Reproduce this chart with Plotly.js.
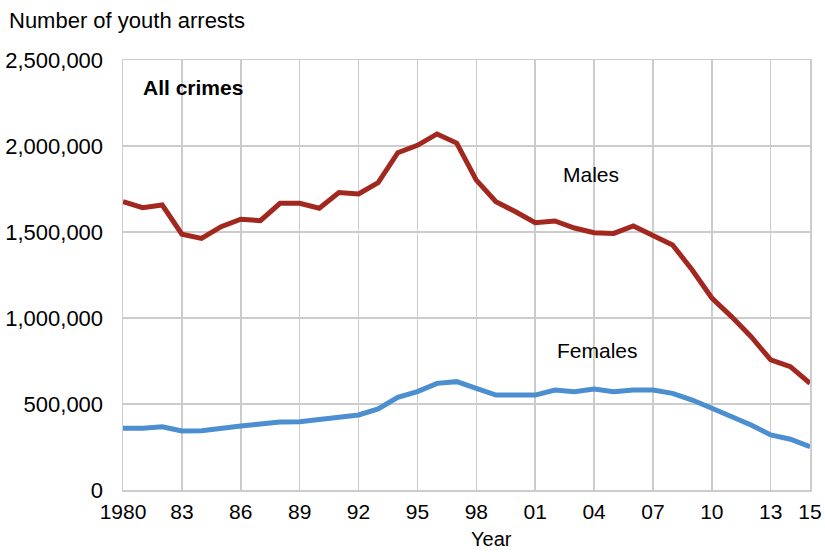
<!DOCTYPE html>
<html>
<head>
<meta charset="utf-8">
<script src="https://cdn.plot.ly/plotly-3.0.1.min.js"></script>
<style>html,body{margin:0;padding:0;background:#fff;}#chart{width:825px;height:552px;}</style>
</head>
<body>
<div id="chart"></div>
<script>
const years = [1980,1981,1982,1983,1984,1985,1986,1987,1988,1989,1990,1991,1992,1993,1994,1995,1996,1997,1998,1999,2000,2001,2002,2003,2004,2005,2006,2007,2008,2009,2010,2011,2012,2013,2014,2015];
const males = [1676000,1641000,1657000,1487000,1463000,1531000,1574000,1566000,1667000,1667000,1638000,1729000,1721000,1787000,1961000,2004000,2070000,2017000,1802000,1676000,1618000,1554000,1564000,1523000,1496000,1492000,1535000,1477000,1425000,1279000,1116000,1008000,891000,756000,717000,620000];
const females = [359000,359000,368000,343000,345000,362000,372000,384000,395000,397000,407000,423000,436000,471000,539000,572000,620000,630000,591000,552000,552000,552000,581000,572000,587000,572000,581000,581000,562000,523000,475000,426000,378000,320000,295000,252000];
const xTickVals = [1980,1983,1986,1989,1992,1995,1998,2001,2004,2007,2010,2013,2015];
const xTickText = ['1980','83','86','89','92','95','98','01','04','07','10','13','15'];
const yTickVals = [0,500000,1000000,1500000,2000000,2500000];

const font = 'Liberation Sans, Arial, Helvetica, sans-serif';

const traces = [
  {x: years, y: males, type: 'scatter', mode: 'lines', name: 'Males',
   line: {color: '#a2281f', width: 5}},
  {x: years, y: females, type: 'scatter', mode: 'lines', name: 'Females',
   line: {color: '#4b8fd1', width: 5}}
];

const layout = {
  width: 825, height: 552,
  margin: {l: 123, r: 15, t: 60, b: 62},
  paper_bgcolor: '#fff', plot_bgcolor: '#fff',
  showlegend: false,
  font: {family: font, color: '#000', size: 21},
  xaxis: {
    range: [1980, 2015],
    tickvals: xTickVals, ticktext: xTickText,
    tickfont: {size: 21, family: font},
    showgrid: true, gridcolor: '#cccccc', gridwidth: 1.5,
    showline: true, linecolor: '#cccccc', linewidth: 1.5, mirror: true,
    zeroline: false, ticks: '', ticklabelstandoff: 2
  },
  yaxis: {
    range: [0, 2500000],
    tickvals: yTickVals, tickformat: ',d',
    tickfont: {size: 22, family: font},
    showgrid: true, gridcolor: '#cccccc', gridwidth: 1.5,
    showline: true, linecolor: '#cccccc', linewidth: 1.5, mirror: true,
    zeroline: false, ticks: '', ticklabelstandoff: 14
  },
  annotations: [
    {text: 'Number of youth arrests', xref: 'paper', yref: 'paper', x: -0.1689, y: 1.0907,
     xanchor: 'left', yanchor: 'middle', showarrow: false, font: {size: 22, family: font}},
    {text: '<b>All crimes</b>', xref: 'paper', yref: 'paper', x: 0.1019, y: 0.9349,
     xanchor: 'center', yanchor: 'middle', showarrow: false, font: {size: 21, family: font}},
    {text: 'Males', xref: 'paper', yref: 'paper', x: 0.681, y: 0.7326,
     xanchor: 'center', yanchor: 'middle', showarrow: false, font: {size: 21, family: font}},
    {text: 'Females', xref: 'paper', yref: 'paper', x: 0.6914, y: 0.3233,
     xanchor: 'center', yanchor: 'middle', showarrow: false, font: {size: 21, family: font}},
    {text: 'Year', xref: 'paper', yref: 'paper', x: 0.5357, y: -0.1140,
     xanchor: 'center', yanchor: 'middle', showarrow: false, font: {size: 20, family: font}}
  ]
};

Plotly.newPlot('chart', traces, layout, {displayModeBar: false, staticPlot: true});
</script>
</body>
</html>
